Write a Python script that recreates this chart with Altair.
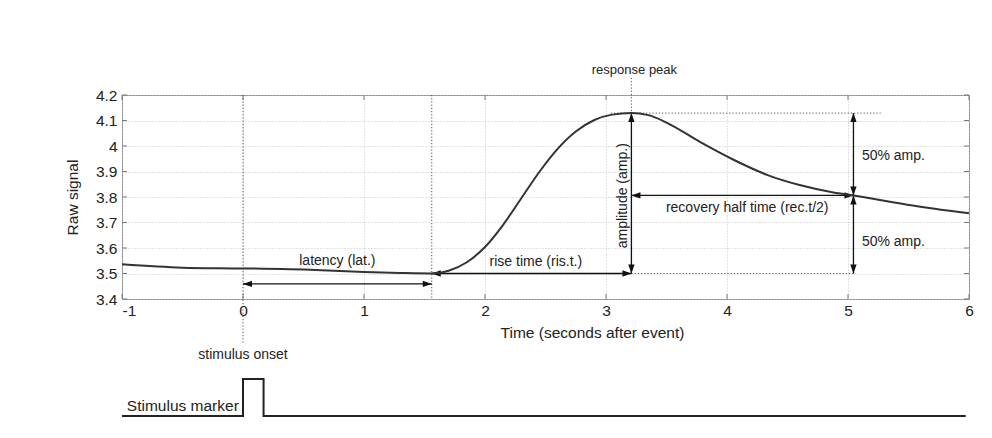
import altair as alt
import pandas as pd

# ---- response curve ----
t_values = [-1.0, -0.5, 0.0, 0.6, 1.0, 1.3, 1.56, 1.70, 1.85, 2.00, 2.15, 2.30, 2.45,
            2.60, 2.75, 2.90, 3.05, 3.21, 3.35, 3.50, 3.78, 4.05, 4.33, 4.60,
            4.88, 5.045, 5.49, 6.0]
signal_values = [3.536, 3.523, 3.520, 3.514, 3.506, 3.502, 3.500, 3.511, 3.544, 3.604,
                 3.691, 3.795, 3.899, 3.989, 4.057, 4.101, 4.123, 4.129, 4.121,
                 4.092, 4.015, 3.947, 3.887, 3.847, 3.818, 3.806, 3.770, 3.736]

x_ticks = [-1, 0, 1, 2, 3, 4, 5, 6]
y_ticks = [3.4, 3.5, 3.6, 3.7, 3.8, 3.9, 4.0, 4.1, 4.2]

# ---- key measurements ----
onset_t = 0.0
start_t = 1.56
peak_t = 3.21
peak_v = 4.129
base_v = 3.5
half_t = 5.045
half_v = 3.806
latency_y = 3.459
peak_line_top = 4.267
peak_hline = [3.04, 5.27]
onset_line_bottom = 3.227

# stimulus marker trace (drawn below the axis)
marker_x = [-1.0, 0.0, 0.0, 0.17, 0.17, 5.973]
marker_y = [2.941, 2.941, 3.086, 3.086, 2.941, 2.941]

# ---- annotation labels ----
center_labels = ["response peak", "latency (lat.)", "rise time (ris.t.)",
                 "recovery half time (rec.t/2)", "stimulus onset"]
center_x = [3.235, 0.78, 2.42, 4.167, 0.0]
center_y = [4.298, 3.549, 3.547, 3.756, 3.18]
center_size = [13, 14, 14, 14, 14]

left_labels = ["50% amp.", "50% amp.", "Stimulus marker"]
left_x = [5.115, 5.115, -0.96]
left_y = [3.961, 3.622, 2.980]
left_size = [14, 14, 15.5]

rot_labels = ["amplitude (amp.)"]
rot_x = [3.14]
rot_y = [3.805]

FONT = "Liberation Sans"
W, H = 847, 204

xs = alt.Scale(domain=[-1, 6], nice=False, zero=False)
ys = alt.Scale(domain=[3.4, 4.2], nice=False, zero=False)

x_axis = alt.Axis(values=x_ticks, title="Time (seconds after event)", grid=True,
                  ticks=False, tickSize=0, labelPadding=4, domain=False,
                  labelExpr="'' + datum.value",
                  labelAlign={"condition": {"test": "datum.value == -1", "value": "left"},
                              "value": "center"},
                  labelFont=FONT, labelFontSize=15.5, labelColor="#222222",
                  titleFont=FONT, titleFontSize=15.5, titleColor="#222222",
                  titleFontWeight="normal",
                  gridColor="#c4c4c4", gridDash=[1, 2], gridWidth=1,
                  titleX=470, titleY=33, titleAlign="center", titleBaseline="middle",
                  titleAnchor="start")
y_axis = alt.Axis(values=y_ticks, title="Raw signal", grid=True, ticks=False, tickSize=0,
                  labelPadding=5, domain=False, labelExpr="'' + datum.value",
                  labelFont=FONT, labelFontSize=15.5, labelColor="#222222",
                  titleFont=FONT, titleFontSize=15.5, titleColor="#222222",
                  titleFontWeight="normal",
                  gridColor="#c4c4c4", gridDash=[1, 2], gridWidth=1,
                  titleX=-50, titleY=102, titleAlign="center", titleBaseline="middle",
                  titleAnchor="start")

X = alt.X("x:Q", scale=xs, axis=x_axis)
Y = alt.Y("y:Q", scale=ys, axis=y_axis)

curve_df = pd.DataFrame({"x": t_values, "y": signal_values})

# inward tick marks on all four sides
xt = pd.DataFrame({"x": x_ticks})
yt = pd.DataFrame({"y": y_ticks})
tick_col = "#777777"
ticks_bottom = alt.Chart(xt).mark_rule(color=tick_col, strokeWidth=1).encode(
    x=X, y=alt.value(H), y2=alt.value(H - 5))
ticks_top = alt.Chart(xt).mark_rule(color=tick_col, strokeWidth=1).encode(
    x=X, y=alt.value(0), y2=alt.value(5))
ticks_left = alt.Chart(yt).mark_rule(color=tick_col, strokeWidth=1).encode(
    y=Y, x=alt.value(0), x2=alt.value(5))
ticks_right = alt.Chart(yt).mark_rule(color=tick_col, strokeWidth=1).encode(
    y=Y, x=alt.value(W), x2=alt.value(W - 5))

# dotted guide lines
guides_df = pd.DataFrame({
    "x": [onset_t, start_t, peak_t, peak_hline[0], peak_t],
    "y": [4.2, 4.2, peak_line_top, peak_v, base_v],
    "x2": [onset_t, start_t, peak_t, peak_hline[1], half_t],
    "y2": [onset_line_bottom, 3.4, base_v, peak_v, base_v],
})
guides = alt.Chart(guides_df).mark_rule(color="#555555", strokeDash=[1.2, 2],
                                        strokeWidth=1).encode(
    x=X, y=Y, x2="x2:Q", y2="y2:Q")

# arrow shafts
arrows_df = pd.DataFrame({
    "x": [onset_t, start_t, peak_t, peak_t, half_t, half_t],
    "y": [latency_y, base_v, base_v, half_v, peak_v, half_v],
    "x2": [start_t, peak_t, peak_t, half_t, half_t, half_t],
    "y2": [latency_y, base_v, peak_v, half_v, half_v, base_v],
})
shafts = alt.Chart(arrows_df).mark_rule(color="#111111", strokeWidth=1.3).encode(
    x=X, y=Y, x2="x2:Q", y2="y2:Q")

# arrow heads
heads_df = pd.DataFrame({
    "x": [onset_t, start_t, start_t, peak_t, peak_t, peak_t, peak_t, half_t,
          half_t, half_t, half_t, half_t],
    "y": [latency_y, latency_y, base_v, base_v, peak_v, base_v, half_v, half_v,
          peak_v, half_v, half_v, base_v],
    "angle": [180, 0, 180, 0, 270, 90, 180, 0, 270, 90, 270, 90],
})
heads = alt.Chart(heads_df).mark_point(
    shape="M0,0L-2,-0.7L-2,0.7Z", filled=True, size=81, color="#111111", opacity=1,
    strokeWidth=0).encode(x=X, y=Y, angle=alt.Angle("angle:Q", scale=None))

curve = alt.Chart(curve_df).mark_line(color="#333333", strokeWidth=2,
                                      interpolate="monotone").encode(x=X, y=Y)

marker_df = pd.DataFrame({"x": marker_x, "y": marker_y, "o": list(range(len(marker_x)))})
marker = alt.Chart(marker_df).mark_line(color="#222222", strokeWidth=2,
                                        strokeJoin="miter").encode(
    x=X, y=Y, order="o:Q")

c_df = pd.DataFrame({"x": center_x, "y": center_y, "label": center_labels,
                     "size": center_size})
c_text = alt.Chart(c_df).mark_text(font=FONT, color="#222222", align="center",
                                   baseline="middle").encode(
    x=X, y=Y, text="label:N", size=alt.Size("size:Q", scale=None, legend=None))

l_df = pd.DataFrame({"x": left_x, "y": left_y, "label": left_labels, "size": left_size})
l_text = alt.Chart(l_df).mark_text(font=FONT, color="#222222", align="left",
                                   baseline="middle").encode(
    x=X, y=Y, text="label:N", size=alt.Size("size:Q", scale=None, legend=None))

r_df = pd.DataFrame({"x": rot_x, "y": rot_y, "label": rot_labels})
r_text = alt.Chart(r_df).mark_text(font=FONT, color="#222222", align="center",
                                   baseline="middle", angle=270, fontSize=14).encode(
    x=X, y=Y, text="label:N")

chart = alt.layer(
    ticks_bottom, ticks_top, ticks_left, ticks_right,
    guides, shafts, heads, curve, marker, c_text, l_text, r_text
).properties(
    width=W, height=H,
    autosize=alt.AutoSizeParams(type="none"),
    padding={"left": 114, "top": 87, "right": 15, "bottom": 131},
).configure(
    background="white"
).configure_view(
    stroke="#888888", strokeWidth=1
)

chart.save("out.html", embed_options={"renderer": "svg", "actions": False})
